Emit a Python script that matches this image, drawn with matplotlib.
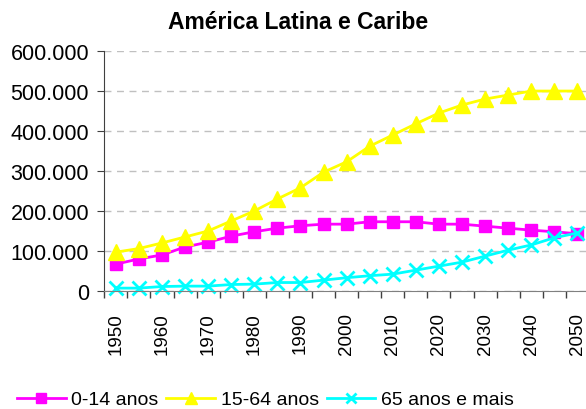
import matplotlib
matplotlib.use("Agg")
import matplotlib.pyplot as plt
from matplotlib.ticker import FuncFormatter

plt.rcParams['font.family'] = ['Liberation Sans', 'DejaVu Sans']

# population (thousands), Latin America & Caribbean
years = list(range(1950, 2051, 5))
age_0_14 = [67000, 80000, 90000, 110000, 122000, 137000, 148000, 157000, 163000, 167000, 167000,
            173000, 173000, 173000, 167000, 167000, 162000, 157000, 152000, 148000, 143000]
age_15_64 = [97000, 106000, 120000, 135000, 150000, 175000, 200000, 230000, 258000, 297000, 323000,
             362000, 390000, 418000, 445000, 465000, 480000, 490000, 500000, 500000, 500000]
age_65 = [7000, 7000, 11000, 12000, 12000, 16000, 17000, 21000, 21000, 27000, 33000,
          38000, 42000, 52000, 62000, 72000, 87000, 102000, 115000, 133000, 145000]
labels = ['0-14 anos', '15-64 anos', '65 anos e mais']

fig = plt.figure(figsize=(5.86, 4.10), dpi=100)
ax = fig.add_axes([0.178, 0.288, 0.827, 0.585])

x = range(len(years))
ax.plot(x, age_0_14, color='#ff00ff', lw=2, marker='s', ms=9, label=labels[0], clip_on=False)
ax.plot(x, age_15_64, color='#ffff00', lw=2, marker='^', ms=11, label=labels[1], clip_on=False)
ax.plot(x, age_65, color='#00ffff', lw=2, marker='x', ms=10, mew=2, label=labels[2], clip_on=False)

ax.set_xlim(-0.5, len(years) - 0.5)
ax.set_ylim(0, 600000)
ax.set_yticks(range(0, 600001, 100000))
ax.yaxis.set_major_formatter(FuncFormatter(lambda v, p: '{:,.0f}'.format(v).replace(',', '.')))
ax.yaxis.grid(True, color='#c0c0c0', ls=(0, (5, 4)), lw=1)
ax.set_axisbelow(True)

# ticks between categories, labels every other year
ax.set_xticks([i - 0.5 for i in range(len(years) + 1)])
ax.set_xticklabels([])
ax.set_xticks(list(x)[::2], minor=True)
ax.set_xticklabels([str(y) for y in years[::2]], minor=True, rotation=90, fontsize=13.5)
ax.tick_params(axis='x', which='minor', length=0, pad=15)
ax.tick_params(axis='x', which='major', length=5, width=1, color='#404040')
ax.tick_params(axis='y', labelsize=15.5, length=5, pad=6, color='#404040')

for s in ['top', 'right']:
    ax.spines[s].set_visible(False)
ax.spines['left'].set_color('#404040')
ax.spines['bottom'].set_color('#808080')

fig.text(0.509, 0.944, 'América Latina e Caribe', ha='center', va='center',
         fontsize=16.5, fontweight='bold')

fig.legend(loc='center left', bbox_to_anchor=(0.029, 0.023), ncol=3, frameon=False, fontsize=14,
           handlelength=2.5, columnspacing=0.4, handletextpad=0.3, markerscale=0.75,
           borderpad=0, borderaxespad=0)

fig.savefig('out.png', dpi=100)
